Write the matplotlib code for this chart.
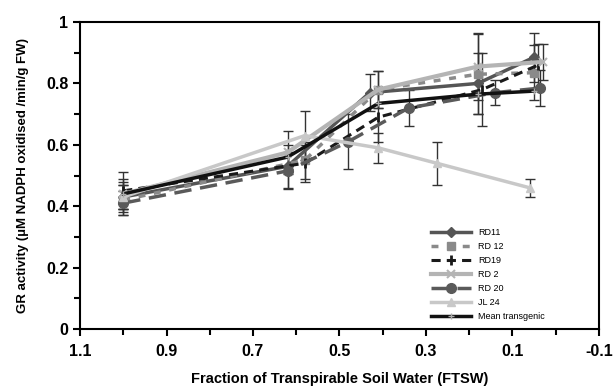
import matplotlib
matplotlib.use("Agg")
import matplotlib.pyplot as plt

plt.rcParams['font.family'] = ['Liberation Sans', 'DejaVu Sans']

# FTSW values and GR activity for each line
rd11_x = [1.0, 0.62, 0.43, 0.18, 0.05]
rd11_y = [0.43, 0.53, 0.77, 0.80, 0.885]
rd11_err = [0.05, 0.07, 0.06, 0.10, 0.08]

rd12_x = [1.0, 0.58, 0.41, 0.18, 0.05]
rd12_y = [0.42, 0.55, 0.78, 0.83, 0.835]
rd12_err = [0.05, 0.06, 0.06, 0.13, 0.09]

rd19_x = [1.0, 0.58, 0.41, 0.17, 0.04]
rd19_y = [0.45, 0.54, 0.69, 0.78, 0.86]
rd19_err = [0.06, 0.06, 0.08, 0.12, 0.07]

rd2_x = [1.0, 0.62, 0.41, 0.18, 0.03]
rd2_y = [0.44, 0.575, 0.78, 0.855, 0.87]
rd2_err = [0.05, 0.07, 0.06, 0.11, 0.06]

rd20_x = [1.0, 0.62, 0.48, 0.34, 0.14, 0.035]
rd20_y = [0.41, 0.515, 0.61, 0.72, 0.77, 0.785]
rd20_err = [0.04, 0.06, 0.09, 0.06, 0.04, 0.06]

jl24_x = [1.0, 0.58, 0.41, 0.275, 0.06]
jl24_y = [0.43, 0.63, 0.59, 0.54, 0.46]
jl24_err = [0.04, 0.08, 0.05, 0.07, 0.03]

mean_x = [1.0, 0.62, 0.41, 0.18, 0.05]
mean_y = [0.44, 0.56, 0.735, 0.765, 0.775]

x_ticks = [1.1, 0.9, 0.7, 0.5, 0.3, 0.1, -0.1]
y_ticks = [0, 0.2, 0.4, 0.6, 0.8, 1]

fig = plt.figure(figsize=(6.16, 3.87), dpi=100)
ax = fig.add_axes([0.13, 0.15, 0.842, 0.793])

series = [
    (rd11_x, rd11_y, rd11_err, "RD11", dict(color="#555555", ls="-", lw=2.5, marker="D", ms=5)),
    (rd12_x, rd12_y, rd12_err, "RD 12", dict(color="#8a8a8a", ls=(0, (2, 2.5)), lw=2.5, marker="s", ms=6)),
    (rd19_x, rd19_y, rd19_err, "RD19", dict(color="#1a1a1a", ls=(0, (3, 2)), lw=2.2, marker="|", ms=7, mew=2)),
    (rd2_x, rd2_y, rd2_err, "RD 2", dict(color="#b4b4b4", ls="-", lw=3, marker="x", ms=6, mew=1.5)),
    (rd20_x, rd20_y, rd20_err, "RD 20", dict(color="#5a5a5a", ls=(0, (5, 2.5)), lw=2.5, marker="o", ms=7)),
    (jl24_x, jl24_y, jl24_err, "JL 24", dict(color="#c8c8c8", ls="-", lw=2.5, marker="^", ms=6)),
]

for x, y, err, name, style in series:
    ax.errorbar(x, y, yerr=err, fmt="none", ecolor="#333333", elinewidth=1, capsize=3.5, zorder=2)
    ax.plot(x, y, label=name, zorder=3, **style)

ax.plot(mean_x, mean_y, color="#111111", lw=2.5, marker="+", ms=5, mec="#aaaaaa",
        label="Mean transgenic", zorder=4)

ax.set_xlim(1.1, -0.1)
ax.set_ylim(0, 1)
ax.set_xticks(x_ticks)
ax.set_xticklabels([str(v) for v in x_ticks])
ax.set_xticks([1.0, 0.8, 0.6, 0.4, 0.2, 0.0], minor=True)
ax.set_yticks(y_ticks)
ax.set_yticklabels([str(v) for v in y_ticks])
ax.set_yticks([0.1, 0.3, 0.5, 0.7, 0.9], minor=True)
ax.tick_params(which="both", direction="out", width=1.5, labelsize=11.5)
ax.tick_params(which="major", length=5)
ax.tick_params(which="minor", length=4)
ax.tick_params(axis="x", pad=6)
for lab in ax.get_xticklabels() + ax.get_yticklabels():
    lab.set_fontweight("bold")
for sp in ax.spines.values():
    sp.set_linewidth(1.5)

ax.set_xlabel("Fraction of Transpirable Soil Water (FTSW)", fontsize=10.5, fontweight="bold", labelpad=9)
ax.set_ylabel("GR activity (\u00b5M NADPH oxidised /min/g FW)", fontsize=9.5, fontweight="bold", labelpad=12)

ax.legend(loc="lower left", bbox_to_anchor=(0.66, 0.0), frameon=False, fontsize=6.5,
          handlelength=4.5, labelspacing=0.55)

fig.savefig("out.png", dpi=100)
